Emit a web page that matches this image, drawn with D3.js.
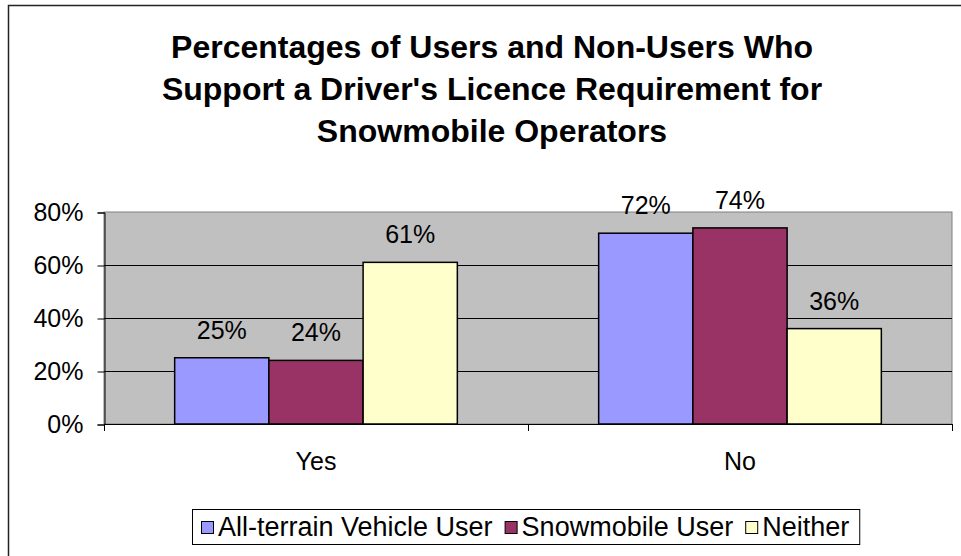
<!DOCTYPE html>
<html>
<head>
<meta charset="utf-8">
<script src="https://cdn.jsdelivr.net/npm/d3@7"></script>
<style>
  body { margin: 0; background: #fff; }
  svg { display: block; font-family: Arial, "Liberation Sans", sans-serif; }
</style>
</head>
<body>
<svg id="chart" width="961" height="556"></svg>
<script>
const titleLines = [
  "Percentages of Users and Non-Users Who",
  "Support a Driver's Licence Requirement for",
  "Snowmobile Operators"
];
const categories = ["Yes", "No"];
const seriesNames = ["All-terrain Vehicle User", "Snowmobile User", "Neither"];
const seriesColors = ["#9999FF", "#993366", "#FFFFCC"];
const atvValues = [25, 72];
const snowValues = [24, 74];
const neitherValues = [61, 36];
const yTicks = [0, 20, 40, 60, 80];

const allValues = [atvValues, snowValues, neitherValues];

const svg = d3.select("#chart");
const plot = { left: 104, right: 952, top: 212, bottom: 424 };

// outer chart border (runs off the right/bottom of the picture)
svg.append("rect")
  .attr("x", 8.5).attr("y", 5.5)
  .attr("width", 1000).attr("height", 600)
  .attr("fill", "#fff")
  .attr("stroke", "#222")
  .attr("stroke-width", 1.5);

// title
svg.append("g")
  .selectAll("text")
  .data(titleLines)
  .join("text")
  .attr("x", 492)
  .attr("y", (d, i) => 58 + i * 42)
  .attr("text-anchor", "middle")
  .attr("font-size", 32)
  .attr("font-weight", "bold")
  .text(d => d);

const x0 = d3.scaleBand()
  .domain(categories)
  .range([plot.left, plot.right]);

// Excel gap width 150% -> group takes 3 / 4.5 of the category
const x1 = d3.scaleBand()
  .domain(d3.range(seriesNames.length))
  .range([0, x0.bandwidth() * 3 / 4.5]);
const groupOffset = (x0.bandwidth() - x1.range()[1]) / 2;

const y = d3.scaleLinear()
  .domain([0, 80])
  .range([plot.bottom, plot.top]);

// plot background
svg.append("rect")
  .attr("x", plot.left).attr("y", plot.top)
  .attr("width", plot.right - plot.left)
  .attr("height", plot.bottom - plot.top)
  .attr("fill", "#C0C0C0")
  .attr("stroke", "#808080")
  .attr("stroke-width", 1);

// gridlines
svg.append("g")
  .selectAll("line")
  .data(yTicks.filter(d => d > 0 && d < 80))
  .join("line")
  .attr("x1", plot.left).attr("x2", plot.right)
  .attr("y1", d => Math.round(y(d)) + 0.5)
  .attr("y2", d => Math.round(y(d)) + 0.5)
  .attr("stroke", "#000")
  .attr("stroke-width", 1);

// y axis
const yAxis = d3.axisLeft(y)
  .tickValues(yTicks)
  .tickSize(7)
  .tickPadding(14)
  .tickFormat(d => d + "%");

const gy = svg.append("g")
  .attr("transform", `translate(${plot.left + 0.5},0.5)`)
  .call(yAxis);
gy.select(".domain").attr("stroke", "#000");
gy.selectAll(".tick line").attr("stroke", "#000");
gy.selectAll(".tick text")
  .attr("font-size", 25)
  .attr("font-family", "Arial, 'Liberation Sans', sans-serif")
  .attr("fill", "#000");

// bars
const groups = svg.append("g")
  .selectAll("g")
  .data(categories)
  .join("g")
  .attr("transform", d => `translate(${x0(d) + groupOffset},0)`);

groups.selectAll("rect")
  .data((d, ci) => allValues.map((vals, si) => ({ si, v: vals[ci] })))
  .join("rect")
  .attr("x", d => x1(d.si))
  .attr("y", d => y(d.v))
  .attr("width", x1.bandwidth())
  .attr("height", d => plot.bottom - y(d.v))
  .attr("fill", d => seriesColors[d.si])
  .attr("stroke", "#000")
  .attr("stroke-width", 1.5);

groups.selectAll("text")
  .data((d, ci) => allValues.map((vals, si) => ({ si, v: vals[ci] })))
  .join("text")
  .attr("x", d => x1(d.si) + x1.bandwidth() / 2)
  .attr("y", d => y(d.v) - 19)
  .attr("text-anchor", "middle")
  .attr("font-size", 25)
  .text(d => d.v + "%");

// x axis
const xAxisLine = svg.append("g");
xAxisLine.append("line")
  .attr("x1", plot.left).attr("x2", plot.right)
  .attr("y1", plot.bottom + 0.5).attr("y2", plot.bottom + 0.5)
  .attr("stroke", "#000");
xAxisLine.selectAll(".xt")
  .data([plot.left, x0("No"), plot.right])
  .join("line")
  .attr("class", "xt")
  .attr("x1", d => d + 0.5).attr("x2", d => d + 0.5)
  .attr("y1", plot.bottom).attr("y2", plot.bottom + 7)
  .attr("stroke", "#000");
xAxisLine.selectAll("text")
  .data(categories)
  .join("text")
  .attr("x", d => x0(d) + x0.bandwidth() / 2)
  .attr("y", 470)
  .attr("text-anchor", "middle")
  .attr("font-size", 25)
  .text(d => d);

// legend
const legend = svg.append("g");
const legendBox = legend.append("rect")
  .attr("x", 192.5).attr("y", 509.5)
  .attr("height", 35)
  .attr("fill", "#fff")
  .attr("stroke", "#000")
  .attr("stroke-width", 1);

let lx = 201;
seriesNames.forEach((name, i) => {
  legend.append("rect")
    .attr("x", lx + 0.5).attr("y", 521.5)
    .attr("width", 12).attr("height", 12)
    .attr("fill", seriesColors[i])
    .attr("stroke", "#000")
    .attr("stroke-width", 1);
  const t = legend.append("text")
    .attr("x", lx + 17)
    .attr("y", 536)
    .attr("font-size", 27)
    .text(name);
  lx += 17 + t.node().getComputedTextLength() + 12;
});
legendBox.attr("width", lx - 192 - 2);
</script>
</body>
</html>
